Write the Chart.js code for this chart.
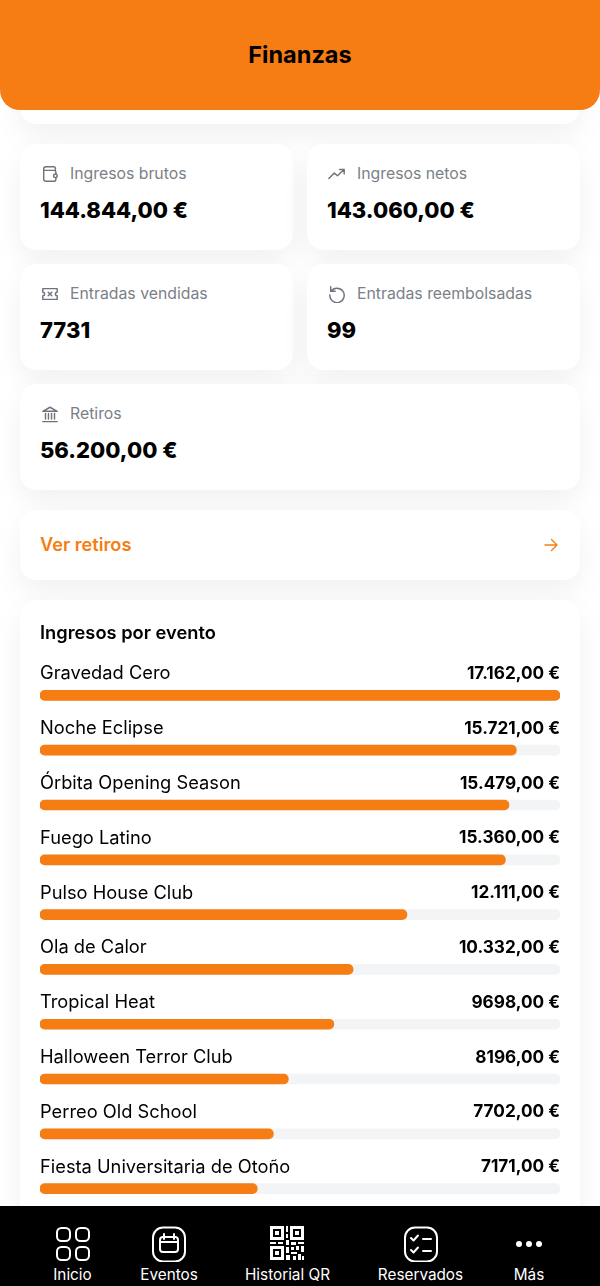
<!DOCTYPE html>
<html lang="es">
<head>
<meta charset="utf-8">
<title>Finanzas</title>
<script src="https://cdn.jsdelivr.net/npm/chart.js@4"></script>
<style>
  html,body{margin:0;padding:0;background:#fff;}
  body{width:600px;height:1286px;position:relative;overflow:hidden;font-family:Inter,sans-serif;color:#000;}
  .abs{position:absolute;}
  .card{position:absolute;background:#fff;border-radius:16px;box-shadow:0 12px 30px rgba(0,0,0,.06);}
  header{position:absolute;left:0;top:0;width:600px;height:110px;background:#F57D14;border-radius:0 0 20px 20px;z-index:5;
    display:flex;align-items:center;justify-content:center;font-weight:700;font-size:23.5px;padding-bottom:2px;box-sizing:border-box;}
  .kl{position:absolute;font-size:15.8px;color:#7b7f88;line-height:20px;white-space:nowrap;}
  .kv{position:absolute;font-size:22px;font-weight:800;line-height:28px;white-space:nowrap;}
  .ki{position:absolute;width:18px;height:18px;fill:none;stroke:#6f737c;stroke-width:1.6;stroke-linecap:round;stroke-linejoin:round;}
  nav{position:absolute;left:0;top:1206px;width:600px;height:80px;background:#000;z-index:6;color:#fff;}
  nav span{position:absolute;top:60px;font-size:15.3px;line-height:18px;transform:translateX(-50%);white-space:nowrap;}
  nav svg{position:absolute;fill:none;stroke:#fff;stroke-width:2;stroke-linecap:round;stroke-linejoin:round;}
  canvas{position:absolute;left:40px;top:620px;z-index:2;}
</style>
</head>
<body>
<header>Finanzas</header>
<div class="card" style="left:20px;top:60px;width:560px;height:64px"></div>
<div class="card" style="left:20px;top:144px;width:273px;height:106px"></div>
<div class="card" style="left:307px;top:144px;width:273px;height:106px"></div>
<div class="card" style="left:20px;top:264px;width:273px;height:106px"></div>
<div class="card" style="left:307px;top:264px;width:273px;height:106px"></div>
<div class="card" style="left:20px;top:384px;width:560px;height:106px"></div>
<div class="card" style="left:20px;top:510px;width:560px;height:70px"></div>
<div class="card" style="left:20px;top:600px;width:560px;height:700px"></div>

<div id="kpis" style="position:absolute;left:0;top:0;z-index:3"></div>

<svg class="ki" style="left:41px;top:165px;z-index:3" viewBox="0 0 20 20"><path d="M3 6V4.500A2.500 2.500 0 0 1 5.500 2h8.500a2 2 0 0 1 2 2v2M3 6v9.500A2.500 2.500 0 0 0 5.500 18h9a2 2 0 0 0 2-2v-2M3 6h11.500a2 2 0 0 1 2 2v2"/><circle cx="16" cy="12" r="2"/></svg>
<svg class="ki" style="left:328px;top:165px;z-index:3" viewBox="0 0 20 20"><path d="M1 15l6-6 3.500 3L18 5M13 5h5v5"/></svg>
<svg class="ki" style="left:41px;top:285px;z-index:3" viewBox="0 0 20 20"><path d="M2 4h16v4a2 2 0 0 0 0 4v4H2v-4a2 2 0 0 0 0-4zM8 8l4 4M12 8l-4 4"/></svg>
<svg class="ki" style="left:328px;top:285px;z-index:3" viewBox="0 0 20 20"><path d="M3 2v5h5M3.400 7A8 8 0 1 1 2 11"/></svg>
<svg class="ki" style="left:41px;top:405px;z-index:3" viewBox="0 0 20 20"><path d="M2 7L10 2.500 18 7zM5 9.500v6M8.300 9.500v6M11.700 9.500v6M15 9.500v6M2 18.500h16"/></svg>

<div class="abs" style="left:40px;top:532px;font-size:18.200px;font-weight:600;color:#F57D14;line-height:24px;z-index:3">Ver retiros</div>
<svg class="abs" style="left:544px;top:538px;z-index:3;fill:none;stroke:#F57D14;stroke-width:1.4;stroke-linecap:round;stroke-linejoin:round" width="14" height="14" viewBox="0 0 14 14"><path d="M1 7h12M7.500 1.500L13 7l-5.500 5.500"/></svg>

<canvas id="c" width="520" height="607"></canvas>

<nav>
  <svg style="left:55px;top:20px" width="36" height="36" viewBox="0 0 36 36"><rect x="2" y="2" width="13" height="13" rx="4.500"/><rect x="21" y="2" width="13" height="13" rx="4.500"/><rect x="2" y="21" width="13" height="13" rx="4.500"/><rect x="21" y="21" width="13" height="13" rx="4.500"/></svg>
  <span style="left:72.500px">Inicio</span>
  <svg style="left:151px;top:20px" width="36" height="36" viewBox="0 0 36 36"><rect x="2" y="1.500" width="32" height="34" rx="10"/><rect x="9" y="11" width="18" height="15" rx="3"/><path d="M9 16h18M13 8v5M23 8v5"/></svg>
  <span style="left:169px">Eventos</span>
  <svg style="left:269px;top:19px;stroke:none;fill:#fff" width="36" height="36" viewBox="0 0 36 36"><path fill-rule="evenodd" d="M1 1h14v14H1zM4 4v8h8V4zM21 1h14v14H21zM24 4v8h8V4zM1 21h14v14H1zM4 24v8h8v-8z"/><path d="M6 6h4v4H6zM26 6h4v4h-4zM6 26h4v4H6zM17 1h2v6h-2zM17 9h2v4h-2zM1 17h6v2H1zM9 17h5v2H9zM17 15h3v5h-3zM22 17h5v3h-5zM29 17h6v2h-6zM17 22h3v6h-3zM22 22h3v3h-3zM27 21h3v4h-3zM32 21h3v6h-3zM22 27h6v2h-6zM17 30h4v5h-4zM24 31h3v4h-3zM29 29h3v6h-3zM33 31h2v4h-2z"/></svg>
  <span style="left:287.500px">Historial QR</span>
  <svg style="left:403px;top:20px" width="36" height="36" viewBox="0 0 36 36"><rect x="2" y="1.500" width="32" height="34" rx="10"/><path d="M8 12l2.500 2.500L15 9.500M8 24l2.500 2.500L15 21.500M20 13h8M20 25h8"/></svg>
  <span style="left:420.500px">Reservados</span>
  <svg style="left:515px;top:30px;stroke:none;fill:#fff" width="28" height="16" viewBox="0 0 28 16"><circle cx="4" cy="8" r="3"/><circle cx="14" cy="8" r="3"/><circle cx="24" cy="8" r="3"/></svg>
  <span style="left:529px">Más</span>
</nav>

<script>
const events = ["Gravedad Cero","Noche Eclipse","Órbita Opening Season","Fuego Latino","Pulso House Club","Ola de Calor","Tropical Heat","Halloween Terror Club","Perreo Old School","Fiesta Universitaria de Otoño"];
const incomes = [17162,15721,15479,15360,12111,10332,9698,8196,7702,7171];
const incomeTexts = ["17.162,00 €","15.721,00 €","15.479,00 €","15.360,00 €","12.111,00 €","10.332,00 €","9698,00 €","8196,00 €","7702,00 €","7171,00 €"];
const trackValues = [17162,17162,17162,17162,17162,17162,17162,17162,17162,17162];
const chartTitle = "Ingresos por evento";

const kpiLabels = ["Ingresos brutos","Ingresos netos","Entradas vendidas","Entradas reembolsadas","Retiros"];
const kpiValues = ["144.844,00 €","143.060,00 €","7731","99","56.200,00 €"];
const kpiX = [40,327,40,327,40];
const kpiY = [144,144,264,264,384];

const host = document.getElementById('kpis');
kpiLabels.forEach((t,i)=>{
  const l=document.createElement('div'); l.className='kl'; l.textContent=t;
  l.style.left=(kpiX[i]+30)+'px'; l.style.top=(kpiY[i]+20)+'px'; host.appendChild(l);
  const v=document.createElement('div'); v.className='kv'; v.textContent=kpiValues[i];
  v.style.left=kpiX[i]+'px'; v.style.top=(kpiY[i]+52)+'px'; host.appendChild(v);
});

new Chart(document.getElementById('c'),{
  type:'bar',
  data:{labels:events,datasets:[
    {label:'Ingresos',data:incomes,backgroundColor:'#F57D14',order:0},
    {label:'Total',data:trackValues,backgroundColor:'#F3F4F6',order:1}
  ]},
  options:{
    indexAxis:'y',responsive:false,animation:false,
    datasets:{bar:{barThickness:10,borderRadius:5,borderSkipped:false,grouped:false}},
    layout:{padding:0},
    plugins:{
      legend:{display:false},tooltip:{enabled:false},
      title:{display:true,text:chartTitle,align:'start',color:'#000',
        font:{family:'Inter',size:18.3,weight:'600',lineHeight:1.2},padding:{top:2.2,bottom:23.84}}
    },
    scales:{
      x:{display:false,min:0,max:17162},
      y:{position:'left',grid:{display:false,drawTicks:false},border:{display:false},
        ticks:{mirror:true,padding:0,labelOffset:-21.5,autoSkip:false,color:'#000',font:{family:'Inter',size:18.3,weight:'400'}}},
      y2:{type:'category',labels:incomeTexts,position:'right',grid:{display:false,drawTicks:false},border:{display:false},
        ticks:{mirror:true,padding:0,labelOffset:-21.5,autoSkip:false,color:'#000',font:{family:'Inter',size:17.2,weight:'700'}}}
    }
  }
});
</script>
</body>
</html>
